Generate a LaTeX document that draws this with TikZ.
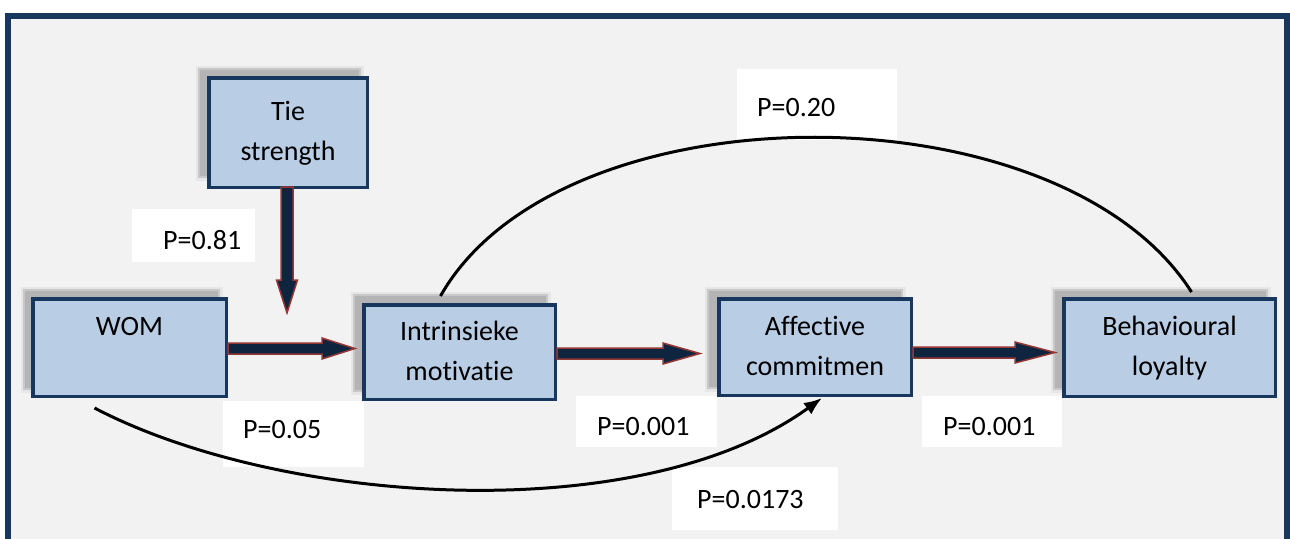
\documentclass[tikz,border=0pt]{standalone}
\usepackage{fontspec}
\setmainfont{Carlito}[Ligatures=NoCommon]
\usetikzlibrary{calc,arrows.meta}
\definecolor{navy}{HTML}{17375E}
\definecolor{boxblue}{HTML}{B9CDE5}
\definecolor{arrfill}{HTML}{0F243E}
\definecolor{arrline}{HTML}{953735}
\definecolor{bg}{HTML}{F2F2F2}
\definecolor{shgray}{HTML}{B4B4B4}
\definecolor{shline}{HTML}{C8C8C8}
\definecolor{shhalo}{HTML}{E6E6E6}
\newcommand\hblockarrow[3]{%
  \filldraw[barrow] ($(#1 |- #2)+(0,-5.5)$) -- ($(#2)+(-#3,-5.5)$) -- ($(#2)+(-#3,-10.5)$) -- (#2)
    -- ($(#2)+(-#3,10.5)$) -- ($(#2)+(-#3,5.5)$) -- ($(#1 |- #2)+(0,5.5)$) -- cycle;}
% label box: #1 width, #2 left pad, #3 text
\newcommand\lbltext[3]{\makebox[#1pt][l]{\hspace*{#2pt}#3}}
\begin{document}
\begin{tikzpicture}[x=1pt,y=-1pt,
  font=\fontsize{28}{40}\selectfont,
  box/.style={draw=navy, line width=3.5pt, fill=boxblue, align=center, inner sep=0pt},
  shadowbox/.style={draw=shline, line width=2pt, fill=shgray, inner sep=0pt,
    preaction={draw=shhalo, line width=7pt}},
  barrow/.style={fill=arrfill, draw=arrline, line width=1.5pt, line join=miter},
  curve/.style={draw=black, line width=3pt},
  lbl/.style={fill=white, inner sep=0pt, anchor=north west}]
\useasboundingbox (0,0) rectangle (1290,538);
\fill[white] (0,0) rectangle (1290,538);
\draw[line width=6pt, draw=navy, fill=bg] (8,16) rectangle (1287,620);

% shadows
\node[shadowbox, minimum width=161pt, minimum height=108pt] (tie-s) at (279.5,123) {};
\node[shadowbox, minimum width=195pt, minimum height=99pt] (wom-s) at (121.5,339.5) {};
\node[shadowbox, minimum width=193pt, minimum height=96pt] (intr-s) at (450.5,343) {};
\node[shadowbox, minimum width=194pt, minimum height=98pt] (aff-s) at (805,339) {};
\node[shadowbox, minimum width=213pt, minimum height=99pt] (beh-s) at (1160.5,339.5) {};

% boxes
\node[box, minimum width=158.5pt, minimum height=109.5pt] (tie) at (288,132.5) {Tie\strut\\strength\strut};
\node[box, minimum width=193.5pt, minimum height=97.5pt] (wom) at (129.5,347.5) {WOM\strut\\\strut};
\node[box, minimum width=191.5pt, minimum height=94.5pt] (intr) at (459.5,352) {Intrinsieke\strut\\motivatie\strut};
\node[box, minimum width=192.5pt, minimum height=96.5pt] (aff) at (815,347) {Affective\strut\\commitmen\strut};
\node[box, minimum width=211.5pt, minimum height=97.5pt] (beh) at (1169.5,347.5) {Behavioural\strut\\loyalty\strut};

% block arrows
\coordinate (t0) at ($(tie.south)+(-1,124)$);
\filldraw[barrow] ($(tie.south -| t0)+(-6,-2)$) -- ($(t0)+(-6,-33)$) -- ($(t0)+(-10.5,-33)$) -- (t0)
  -- ($(t0)+(10.5,-33)$) -- ($(t0)+(6,-33)$) -- ($(tie.south -| t0)+(6,-2)$) -- cycle;
\coordinate (t1) at ($(intr-s.west |- wom.center)+(2,1)$);
\hblockarrow{wom.east}{t1}{33}
\coordinate (t2) at ($(aff-s.west |- intr.center)+(-7,1.5)$);
\hblockarrow{intr.east}{t2}{37}
\coordinate (t3) at ($(beh-s.west |- aff.center)+(2,5.5)$);
\hblockarrow{aff.east}{t3}{40}

% labels (anchor north west at top-left; text height = baseline - top, depth = bottom - baseline)
\node[lbl, text height=47pt, text depth=24pt] (p020) at (737,69) {\lbltext{160}{20}{P=0.20}};
\node[lbl, text height=40pt, text depth=13pt] (p081) at (132,209) {\lbltext{123}{31}{P=0.81}};
\node[lbl, text height=37pt, text depth=29pt] (p005) at (223,401) {\lbltext{141}{20}{P=0.05}};
\node[lbl, text height=39pt, text depth=12pt] (p001a) at (576,396) {\lbltext{141}{21}{P=0.001}};
\node[lbl, text height=39pt, text depth=12pt] (p001b) at (922,396) {\lbltext{140}{21}{P=0.001}};
\node[lbl, text height=41pt, text depth=22pt] (p0173) at (672,467) {\lbltext{166}{25}{P=0.0173}};

% curves
\draw[curve] ($(intr-s.north)+(-10,2)$) .. controls (560,85) and (1060,85) .. ($(beh.north)+(22,-5)$);
\draw[curve, -{Latex[length=18pt,width=14pt]}] ($(wom.south)+(-35,10)$) .. controls (280,505) and (640,530) .. ($(aff.south)+(7,1)$);
\end{tikzpicture}
\end{document}
